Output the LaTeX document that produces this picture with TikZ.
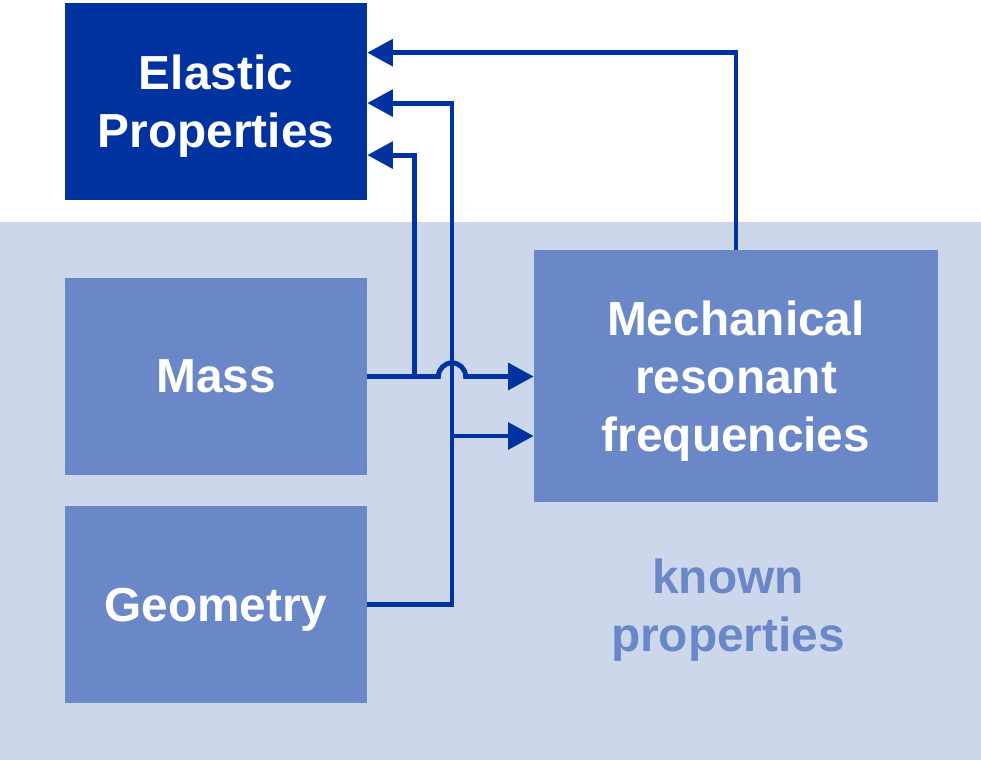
\documentclass[tikz,border=0pt]{standalone}
\usepackage{xcolor}
\usepackage{fontspec}
\setmainfont{Liberation Sans}
\usepackage{tikz}
\usetikzlibrary{arrows.meta}

\definecolor{navy}{HTML}{0033A0}
\definecolor{boxblue}{HTML}{6A87C8}
\definecolor{paleblue}{HTML}{CCD7EC}

\begin{document}
\begin{tikzpicture}[
    box/.style={fill=boxblue, text=white, inner sep=0pt, align=center, text depth=0pt,
      font=\fontsize{34}{41.3}\selectfont\bfseries},
    link/.style={draw=navy, line width=3.5pt,
      -{Triangle[length=0.64cm,width=0.66cm]}}]
  \useasboundingbox (0,0) rectangle (24.525,19);
  \fill[paleblue] (0,0) rectangle (24.525,13.45);

  \node[box, fill=navy, minimum width=7.55cm, minimum height=4.925cm] (elastic) at (5.4,16.4625) {Elastic\\Properties};
  \node[box, minimum width=7.55cm, minimum height=4.925cm] (mass) at (5.4,9.5875) {Mass};
  \node[box, minimum width=7.55cm, minimum height=4.925cm] (geo) at (5.4,3.8875) {Geometry};
  \node[box, minimum width=10.1cm, minimum height=6.3cm] (mech) at (18.4,9.6) {Mechanical\\resonant\\frequencies};
  \node[text=boxblue, align=center, text depth=0pt, font=\fontsize{34}{41.3}\selectfont\bfseries] (known) at (18.2,3.875) {known\\properties};

  \coordinate (split) at (11.3,8.1);
  \coordinate (hop) at (split |- mass.east);

  \draw[link] (mech.north) |- ([yshift=1.22cm]elastic.east);
  \draw[link] (geo.east) -| (split) |- ([yshift=-0.04cm]elastic.east);
  \draw[link] (split) -- (split -| mech.west);
  \draw[link] (mass.east) -- ++(1.19,0) |- ([yshift=-1.34cm]elastic.east);
  % hop over the vertical line
  \draw[link] (mass.east) -- ([xshift=-0.34cm]hop) arc[start angle=180, end angle=0, radius=0.34cm] -- (mass.east -| mech.west);
\end{tikzpicture}
\end{document}
